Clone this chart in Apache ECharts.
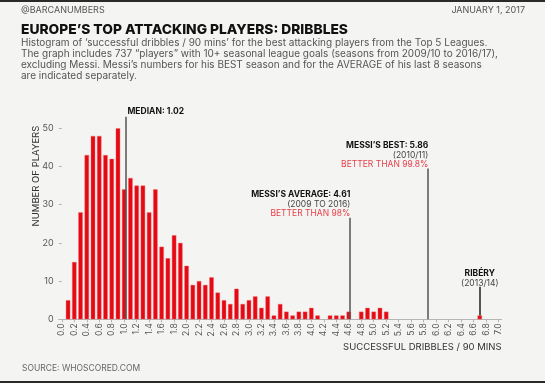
<!DOCTYPE html>
<html><head><meta charset="utf-8">
<script src="https://cdn.jsdelivr.net/npm/echarts@6/dist/echarts.min.js"></script>
<style>html,body{margin:0;padding:0;background:#f4f4f2}#c{width:545px;height:383px}</style>
</head><body><div id="c"></div>
<script>
// bin start values (dribbles / 90 mins), one bar per bin
const binValues = [0.0,0.1,0.2,0.3,0.4,0.5,0.6,0.7,0.8,0.9,1.0,1.1,1.2,1.3,1.4,1.5,1.6,1.7,1.8,1.9,
  2.0,2.1,2.2,2.3,2.4,2.5,2.6,2.7,2.8,2.9,3.0,3.1,3.2,3.3,3.4,3.5,3.6,3.7,3.8,3.9,
  4.0,4.1,4.2,4.3,4.4,4.5,4.6,4.7,4.8,4.9,5.0,5.1,5.2,5.3,5.4,5.5,5.6,5.7,5.8,5.9,
  6.0,6.1,6.2,6.3,6.4,6.5,6.6,6.7];
const playerCounts = [0,5,15,28,43,48,48,43,42,50,34,37,35,35,28,34,19,16,22,20,
  14,9,10,9,11,7,5,4,8,4,5,6,3,6,1,4,2,1,2,2,
  3,1,0,1,1,1,2,0,2,3,2,3,2,0,0,0,0,0,0,0,
  0,0,0,0,0,0,0,1];
const xTickLabels = ['0.0','0.2','0.4','0.6','0.8','1.0','1.2','1.4','1.6','1.8','2.0','2.2','2.4','2.6','2.8','3.0','3.2','3.4','3.6','3.8',
  '4.0','4.2','4.4','4.6','4.8','5.0','5.2','5.4','5.6','5.8','6.0','6.2','6.4','6.6','6.8','7.0'];
const yTickLabels = [0,10,20,30,40,50];
// annotations: x value, line top (players), line bottom
const annMedian = {x:1.02, top:53, bottom:0};
const annAverage = {x:4.61, top:26.6, bottom:0};
const annBest = {x:5.86, top:39.5, bottom:0};
const annRibery = {x:6.7, top:8.5, bottom:1};

const FONT = 'Inter';
const chart = echarts.init(document.getElementById('c'), null, {renderer:'canvas'});
const tickVals = xTickLabels.map(parseFloat);

function vline(a, color, width) {
  return [{coord:[a.x, a.bottom], lineStyle:{color:color, width:width, type:'solid'}}, {coord:[a.x, a.top]}];
}
const annLabels = [
  {formatter:'{b|MEDIAN: 1.02}', align:'left', offset:[2,-1]},
  {formatter:'{b|MESSI\u2019S AVERAGE: 4.61}\n{n|(2009 TO 2016)}\n{r|BETTER THAN 98%}', align:'right', offset:[1,1]},
  {formatter:'{b|MESSI\u2019S BEST: 5.86}\n{n|(2010/11)}\n{r|BETTER THAN 99.8%}', align:'right', offset:[1,1]},
  {formatter:'{b|RIB\u00c9RY}\n{n|(2013/14)}', align:'center', offset:[0,1]}
];
const lineDefs = [vline(annMedian,'#555',1.5), vline(annAverage,'#555',1.5), vline(annBest,'#555',1.5), vline(annRibery,'#222',1.5)];
lineDefs.forEach((pair, idx)=>{
  const l = annLabels[idx];
  pair[0].label = {show:true, position:'end', distance:0, formatter:l.formatter, align:l.align, verticalAlign:'bottom',
    offset:l.offset, fontFamily:FONT, fontSize:8.5, lineHeight:9.6,
    rich:{
      b:{fontFamily:FONT, fontSize:8.5, fontWeight:'bold', color:'#111', lineHeight:9.6, align:l.align},
      n:{fontFamily:FONT, fontSize:8.5, fontWeight:'normal', color:'#444', lineHeight:9.6, align:l.align},
      r:{fontFamily:FONT, fontSize:8.5, fontWeight:'normal', color:'#e8404a', lineHeight:9.6, align:l.align}
    }};
});

chart.setOption({
  backgroundColor:'#f4f4f2',
  animation:false,
  textStyle:{fontFamily:FONT},
  title:[
    {text:'@BARCANUMBERS', left:21, top:6, padding:0, textStyle:{fontFamily:FONT, fontSize:9, fontWeight:'normal', color:'#555'}},
    {text:'JANUARY 1, 2017', right:20, top:6, padding:0, textStyle:{fontFamily:FONT, fontSize:9, fontWeight:'normal', color:'#555'}},
    {text:'EUROPE\u2019S TOP ATTACKING PLAYERS: DRIBBLES', left:21, top:22.5, padding:0, textStyle:{fontFamily:FONT, fontSize:13.8, fontWeight:800, color:'#111'}},
    {text:'Histogram of \u2018successful dribbles / 90 mins\u2019 for the best attacking players from the Top 5 Leagues.\nThe graph includes 737 \u201cplayers\u201d with 10+ seasonal league goals (seasons from 2009/10 to 2016/17),\nexcluding Messi. Messi\u2019s numbers for his BEST season and for the AVERAGE of his last 8 seasons\nare indicated separately.',
     left:21, top:37, padding:0, textStyle:{fontFamily:FONT, fontSize:10, fontWeight:'normal', color:'#555', lineHeight:11}},
    {text:'SOURCE: WHOSCORED.COM', left:22, top:364, padding:0, textStyle:{fontFamily:FONT, fontSize:8.5, fontWeight:'normal', color:'#666'}}
  ],
  graphic:[
    {type:'rect', left:0, top:0, shape:{width:545, height:2}, style:{fill:'#2a2a2a'}},
    {type:'rect', left:0, top:381, shape:{width:545, height:2}, style:{fill:'#2a2a2a'}}
  ],
  grid:{left:58.7, right:43.4, top:32.8, bottom:63.7},
  xAxis:{
    type:'value', min:-0.05, max:7.05,
    name:'SUCCESSFUL DRIBBLES / 90 MINS', nameLocation:'end', nameGap:0, nameMoveOverlap:false,
    nameTextStyle:{fontFamily:FONT, fontSize:9.5, color:'#333', align:'right', verticalAlign:'top', padding:[23,0,0,0]},
    axisLine:{show:true, lineStyle:{color:'#b5b5b5', width:1}},
    axisTick:{show:true, customValues:tickVals, length:3, lineStyle:{color:'#b5b5b5'}},
    axisLabel:{customValues:tickVals, rotate:90, fontSize:8.5, color:'#555', margin:4, fontFamily:FONT,
      formatter:function(v){ return v.toFixed(1); }},
    splitLine:{show:false}
  },
  yAxis:{
    type:'value', min:0, max:75,
    name:'NUMBER OF PLAYERS', nameLocation:'middle', nameGap:18, nameMoveOverlap:false,
    nameTextStyle:{fontFamily:FONT, fontSize:9.5, color:'#333'},
    axisLine:{show:false},
    axisTick:{show:true, customValues:yTickLabels, length:3, lineStyle:{color:'#b5b5b5'}},
    axisLabel:{customValues:yTickLabels, fontSize:9, color:'#555', margin:5, fontFamily:FONT},
    splitLine:{show:false}
  },
  series:[{
    type:'bar',
    barWidth:4.4,
    itemStyle:{color:'#e50914', borderColor:'#f06a70', borderWidth:0.4},
    data:binValues.map((v,i)=>[v, playerCounts[i]]).filter(d=>d[1]>0),
    markLine:{silent:true, symbol:'none', animation:false, data:lineDefs}
  }]
});
</script></body></html>
